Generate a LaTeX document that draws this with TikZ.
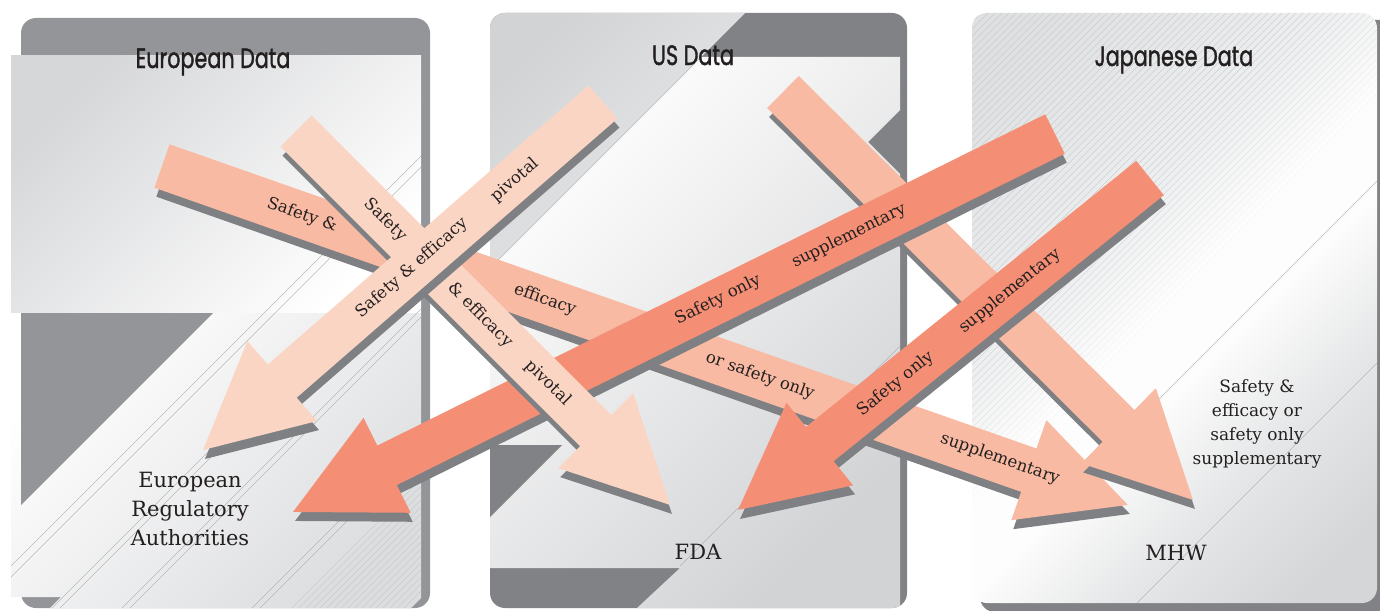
\documentclass[tikz,border=0pt]{standalone}
\usepackage{fontspec}
\usepackage{graphicx}
\newfontfamily\labfont{DejaVu Serif}
\newfontfamily\titfont{Poppins}[FakeBold=1.6]
\definecolor{pgreyA}{HTML}{939598}
\definecolor{pgreyB}{HTML}{808285}
\definecolor{shadowgrey}{HTML}{7F8084}
\definecolor{pinkL}{HTML}{FBD5C4}
\definecolor{pinkM}{HTML}{F8BAA2}
\definecolor{pinkD}{HTML}{F48F75}
\definecolor{txt}{HTML}{231F20}
\definecolor{lgA}{HTML}{D6D7D9}
\definecolor{lgB}{HTML}{DCDDDF}
\definecolor{lgC}{HTML}{D2D3D5}
\definecolor{jpA}{HTML}{D5D6D8}
\definecolor{jpE}{HTML}{E6E7E8}
\definecolor{jpB}{HTML}{FDFDFD}
\definecolor{jpC}{HTML}{EEEFF0}
\definecolor{jpD}{HTML}{DFE0E2}
\definecolor{hatchc}{HTML}{C6C7C9}
\definecolor{thinl}{HTML}{A7A9AC}
\pgfdeclareverticalshading{jpshade}{100bp}{color(0bp)=(jpA); color(25bp)=(jpA); color(36bp)=(jpE); color(45bp)=(jpB); color(51bp)=(jpB); color(58bp)=(jpC); color(75bp)=(jpD); color(100bp)=(jpD)}
\newcommand{\blockarrow}[6]{%
  \pgfmathsetmacro{\bdx}{#3-#1}%
  \pgfmathsetmacro{\bdy}{#4-#2}%
  \pgfmathsetmacro{\blen}{veclen(\bdx,\bdy)}%
  \pgfmathsetmacro{\bang}{atan2(-\bdy,\bdx)}%
  \pgfmathsetmacro{\bneck}{\blen-105}%
  \pgfmathsetmacro{\bw}{#6/2}%
  \fill[shadowgrey, shift={(#1+2,#2+9)}, rotate=\bang] (0,-\bw) -- (\bneck,-\bw) -- (\bneck,-53) -- (\blen,0) -- (\bneck,53) -- (\bneck,\bw) -- (0,\bw) -- cycle;
  \fill[#5, shift={(#1,#2)}, rotate=\bang] (0,-\bw) -- (\bneck,-\bw) -- (\bneck,-53) -- (\blen,0) -- (\bneck,53) -- (\bneck,\bw) -- (0,\bw) -- cycle;
}
\tikzset{
  lab/.style={font=\labfont\fontsize{16.5}{18}\selectfont, text=txt, inner sep=0pt},
  ttl/.style={font=\titfont\fontsize{28}{30}\selectfont, text=txt, anchor=base, inner sep=0pt},
  botlab/.style={font=\labfont\fontsize{21}{29}\selectfont, text=txt, align=center, inner sep=0pt},
  sidelab/.style={font=\labfont\fontsize{17}{24}\selectfont, text=txt, align=center, inner sep=0pt},
  faint/.style={draw=thinl, line width=0.35pt},
}
\begin{document}
\begin{tikzpicture}[x=1pt,y=-1pt]
\useasboundingbox (0,0) rectangle (1380,610);
\fill[white] (0,0) rectangle (1380,610);

% ---------------- European panel ----------------
\fill[pgreyA, rounded corners=15pt] (21,18) rectangle (430,608);
\shade[top color=lgA, bottom color=white, shading angle=45] (11,56) rectangle (421,313);
\shade[top color=white, bottom color=lgB, shading angle=45] (11,313) -- (421,313) -- (421,598) -- (411,608) -- (50,608) -- (61,597) -- (11,597) -- cycle;
\fill[pgreyA] (21,313) -- (213,313) -- (21,505) -- cycle;
\begin{scope}
  \clip (11,56) -- (421,56) -- (421,598) -- (411,608) -- (50,608) -- (61,597) -- (11,597) -- cycle;
  \foreach \c in {577,588,660,668,730,738,860,868} {\draw[faint] (\c-40,40) -- (\c-620,620);}
  \foreach \c in {900,907,...,1030} {\draw[hatchc, line width=0.35pt] (\c-300,300) -- (\c-620,620);}
\end{scope}
\node[ttl] (eutitle) at (213,68) {\scalebox{0.74}[1]{European Data}};

% ---------------- US panel ----------------
\fill[pgreyB, rounded corners=15pt] (490,13) rectangle (907,608);
\begin{scope}
  \clip[rounded corners=15pt] (490,13) rectangle (907,608);
  \shade[top color=lgC, bottom color=lgB!60!white, shading angle=45] (490,268) -- (490,13) -- (745,13) -- cycle;
  \shade[top color=white, middle color=white!96!lgC, bottom color=lgC, shading angle=45] (490,268) -- (701,57) -- (900,57) -- (900,110) -- (868,142) -- (900,174) -- (900,608) -- (637,608) -- (680,568) -- (490,568) -- cycle;
  \fill[pgreyB] (490,445) -- (562,445) -- (490,517) -- cycle;
  \draw[faint] (701,57) -- (490,268);
  \draw[faint] (680,566) -- (900,346);
\end{scope}
\node[ttl] (ustitle) at (693,65) {\scalebox{0.74}[1]{US Data}};

% ---------------- Japanese panel ----------------
\fill[pgreyB, rounded corners=15pt] (980,20) rectangle (1395,612);
\begin{scope}
  \clip[rounded corners=15pt] (972,13) rectangle (1377,603);
  \shade[shading=jpshade, shading angle=45] (880,13) rectangle (1470,603);
  \foreach \c in {980,987,...,1480} {
    \pgfmathsetmacro{\op}{min(1,(1490-\c)/180)}
    \draw[hatchc, line width=0.35pt, draw opacity=\op] (\c-5,5) -- (\c-615,615);
  }
  \draw[faint] (1400,158) -- (1100,458);
  \draw[faint] (1400,340) -- (1120,620);
\end{scope}
\node[ttl] (jptitle) at (1174,66) {\scalebox{0.74}[1]{Japanese Data}};

% ---------------- arrows ----------------
% A: Europe -> Japan
\blockarrow{162}{166}{1128}{505}{pinkM}{46}
\node[lab, rotate=-19.3] (a1) at (302,215) {Safety \&};
\node[lab, rotate=-19.3] (a2) at (545,300) {efficacy};
\node[lab, rotate=-19.3] (a3) at (760,376) {or safety only};
\node[lab, rotate=-19.3] (a4) at (1000,459) {supplementary};
% 3: US -> Japan
\blockarrow{783}{92}{1193}{500}{pinkM}{45}
% 4: Japan -> Europe
\blockarrow{1055}{134}{293}{512}{pinkD}{44}
\node[lab, rotate=26.4] (d1) at (849,236) {supplementary};
\node[lab, rotate=26.4] (d2) at (718,300) {Safety only};
% 5: Japan -> US
\blockarrow{1150}{178}{738}{510}{pinkD}{44}
\node[lab, rotate=38.9] (e1) at (1010,291) {supplementary};
\node[lab, rotate=38.9] (e2) at (896,384) {Safety only};
% 2: Europe -> US
\blockarrow{296}{131}{670}{505}{pinkL}{44}
\node[lab, rotate=-45] (b1) at (385,220) {Safety};
\node[lab, rotate=-45] (b2) at (480,315) {\& efficacy};
\node[lab, rotate=-45] (b3) at (548,383) {pivotal};
% 1: US -> Europe
\blockarrow{603}{102}{203}{450}{pinkL}{44}
\node[lab, rotate=41] (c1) at (515,180) {pivotal};
\node[lab, rotate=41] (c2) at (412,268) {Safety \& efficacy};

% ---------------- receivers ----------------
\node[botlab] (era) at (190,509) {European\\Regulatory\\Authorities};
\node[botlab] (fda) at (698,552) {FDA};
\node[botlab] (mhw) at (1176,553) {MHW};
\node[sidelab] (side) at (1257,424) {Safety \&\\efficacy or\\safety only\\supplementary};
\end{tikzpicture}
\end{document}
